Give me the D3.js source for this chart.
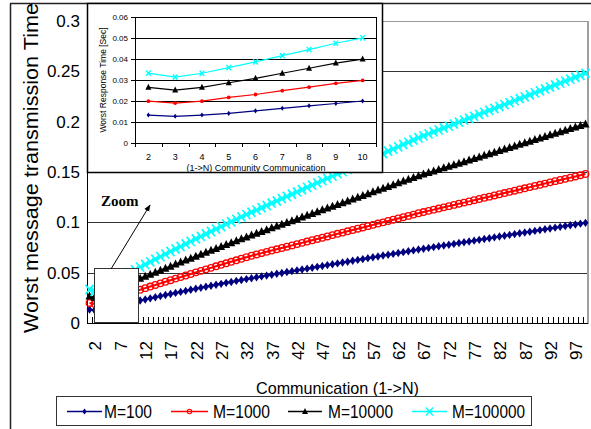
<!DOCTYPE html>
<html><head><meta charset="utf-8">
<script src="https://cdn.jsdelivr.net/npm/d3@7"></script>
<style>
body{margin:0;background:#fff}
svg{display:block}
text{font-family:"Liberation Sans",Arial,sans-serif;fill:#000}
</style>
</head><body>
<svg id="c" width="591" height="429"></svg>
<script>
const categories = d3.range(2, 101);
const seriesNames = ["M=100", "M=1000", "M=10000", "M=100000"];
const m100 = [0.0133,0.0127,0.0133,0.0141,0.0153,0.0165,0.0177,0.0188,0.0200,
0.0212,0.0223,0.0234,0.0245,0.0256,0.0267,0.0278,0.0288,0.0299,0.0309,
0.0319,0.0330,0.0340,0.0350,0.0360,0.0370,0.0380,0.0389,0.0399,0.0408,
0.0418,0.0427,0.0436,0.0445,0.0454,0.0463,0.0471,0.0480,0.0489,0.0497,
0.0506,0.0515,0.0523,0.0532,0.0540,0.0549,0.0558,0.0566,0.0575,0.0584,
0.0592,0.0601,0.0609,0.0618,0.0627,0.0635,0.0644,0.0653,0.0661,0.0670,
0.0678,0.0687,0.0696,0.0704,0.0713,0.0721,0.0730,0.0738,0.0746,0.0754,
0.0762,0.0770,0.0778,0.0786,0.0794,0.0802,0.0810,0.0818,0.0826,0.0834,
0.0842,0.0851,0.0859,0.0867,0.0875,0.0883,0.0891,0.0899,0.0907,0.0915,
0.0923,0.0931,0.0939,0.0947,0.0955,0.0963,0.0971,0.0979,0.0987,0.0995];
const m1000 = [0.0199,0.0190,0.0199,0.0217,0.0231,0.0249,0.0266,0.0284,0.0298,
0.0314,0.0330,0.0346,0.0362,0.0378,0.0394,0.0410,0.0425,0.0441,0.0456,
0.0472,0.0487,0.0503,0.0518,0.0533,0.0548,0.0563,0.0578,0.0593,0.0608,
0.0623,0.0638,0.0653,0.0668,0.0681,0.0694,0.0707,0.0720,0.0732,0.0745,
0.0758,0.0771,0.0784,0.0796,0.0809,0.0822,0.0835,0.0847,0.0860,0.0873,
0.0886,0.0898,0.0911,0.0924,0.0937,0.0949,0.0962,0.0975,0.0988,0.1000,
0.1013,0.1026,0.1039,0.1051,0.1064,0.1077,0.1090,0.1102,0.1114,0.1126,
0.1137,0.1149,0.1161,0.1173,0.1185,0.1196,0.1208,0.1220,0.1232,0.1244,
0.1255,0.1267,0.1279,0.1291,0.1303,0.1314,0.1326,0.1338,0.1350,0.1362,
0.1373,0.1385,0.1397,0.1409,0.1421,0.1432,0.1444,0.1456,0.1468,0.1480];
const m10000 = [0.0265,0.0252,0.0265,0.0287,0.0308,0.0332,0.0356,0.0380,0.0399,
0.0420,0.0441,0.0462,0.0482,0.0502,0.0522,0.0542,0.0562,0.0582,0.0602,
0.0622,0.0641,0.0661,0.0680,0.0700,0.0719,0.0738,0.0757,0.0776,0.0795,
0.0814,0.0833,0.0852,0.0870,0.0888,0.0906,0.0924,0.0942,0.0960,0.0977,
0.0995,0.1013,0.1031,0.1049,0.1067,0.1085,0.1103,0.1121,0.1139,0.1156,
0.1174,0.1192,0.1210,0.1228,0.1246,0.1264,0.1282,0.1300,0.1317,0.1335,
0.1353,0.1371,0.1389,0.1407,0.1424,0.1442,0.1460,0.1476,0.1491,0.1507,
0.1522,0.1538,0.1554,0.1569,0.1585,0.1600,0.1616,0.1632,0.1647,0.1663,
0.1678,0.1694,0.1710,0.1725,0.1741,0.1756,0.1772,0.1788,0.1803,0.1819,
0.1834,0.1850,0.1866,0.1881,0.1897,0.1912,0.1928,0.1944,0.1959,0.1975];
const m100000 = [0.0333,0.0314,0.0332,0.0359,0.0386,0.0416,0.0445,0.0475,0.0501,
0.0528,0.0555,0.0581,0.0607,0.0633,0.0659,0.0684,0.0710,0.0735,0.0760,
0.0785,0.0810,0.0835,0.0860,0.0884,0.0909,0.0933,0.0958,0.0982,0.1006,
0.1030,0.1054,0.1077,0.1100,0.1122,0.1145,0.1167,0.1190,0.1212,0.1235,
0.1257,0.1279,0.1302,0.1324,0.1347,0.1369,0.1392,0.1414,0.1436,0.1459,
0.1481,0.1504,0.1526,0.1549,0.1571,0.1593,0.1616,0.1638,0.1661,0.1683,
0.1706,0.1728,0.1750,0.1773,0.1795,0.1818,0.1840,0.1859,0.1879,0.1898,
0.1918,0.1937,0.1956,0.1976,0.1995,0.2015,0.2034,0.2053,0.2073,0.2092,
0.2112,0.2131,0.2150,0.2170,0.2189,0.2209,0.2228,0.2247,0.2267,0.2286,
0.2306,0.2325,0.2344,0.2364,0.2383,0.2403,0.2422,0.2441,0.2461,0.2480];
const yTicks = [0, 0.05, 0.1, 0.15, 0.2, 0.25, 0.3];
const yTickLabels = ["0", "0.05", "0.1", "0.15", "0.2", "0.25", "0.3"];
const xTickLabels = [2, 7, 12, 17, 22, 27, 32, 37, 42, 47, 52, 57, 62, 67, 72, 77, 82, 87, 92, 97];
const insetCategories = [2, 3, 4, 5, 6, 7, 8, 9, 10];
const insetYTicks = [0, 0.01, 0.02, 0.03, 0.04, 0.05, 0.06];
const insetYTickLabels = ["0", "0.01", "0.02", "0.03", "0.04", "0.05", "0.06"];
const colors = ["#000080", "#ff0000", "#000000", "#00ffff"];
const markerTypes = ["diamond", "circle", "triangle", "cross"];

const allSeries = [m100, m1000, m10000, m100000];
const svg = d3.select("#c");

function marker(g, type, cx, cy, s, color, sw) {
  if (type === "diamond") {
    g.append("path").attr("d", `M${cx},${cy - s * 1.4}L${cx + s},${cy}L${cx},${cy + s * 1.4}L${cx - s},${cy}Z`).attr("fill", color);
  } else if (type === "circle") {
    g.append("circle").attr("cx", cx).attr("cy", cy).attr("r", s).attr("fill", "none").attr("stroke", color).attr("stroke-width", sw || 1.1);
  } else if (type === "circleFill") {
    g.append("circle").attr("cx", cx).attr("cy", cy).attr("r", s).attr("fill", color);
  } else if (type === "triangle") {
    g.append("path").attr("d", `M${cx},${cy - s * 1.2}L${cx + s},${cy + s * 0.8}L${cx - s},${cy + s * 0.8}Z`).attr("fill", color);
  } else if (type === "cross") {
    g.append("path").attr("d", `M${cx - s},${cy - s * 1.15}L${cx + s},${cy + s * 1.15}M${cx + s},${cy - s * 1.15}L${cx - s},${cy + s * 1.15}`).attr("stroke", color).attr("stroke-width", sw || 1.4).attr("fill", "none");
  }
}

// outer frame
svg.append("line").attr("x1", 10.5).attr("y1", 3.5).attr("x2", 10.5).attr("y2", 429).attr("stroke", "#222").attr("stroke-width", 1.5);
svg.append("line").attr("x1", 10).attr("y1", 3.5).attr("x2", 591).attr("y2", 3.5).attr("stroke", "#222").attr("stroke-width", 1.5);

// main scales
const x = d3.scaleBand().domain(categories).range([87, 588]);
const y = d3.scaleLinear().domain([0, 0.3]).range([323, 21]);
const bw = x.bandwidth();

// gridlines
const grid = svg.append("g").attr("shape-rendering", "crispEdges");
yTicks.forEach((t, i) => {
  if (t === 0) return;
  grid.append("line").attr("x1", 87).attr("x2", 588).attr("y1", Math.round(y(t)) + 0.5).attr("y2", Math.round(y(t)) + 0.5)
    .attr("stroke", t === 0.3 ? "#999" : "#333").attr("stroke-width", 1);
});
grid.append("line").attr("x1", 588).attr("x2", 588).attr("y1", 21).attr("y2", 324).attr("stroke", "#a0a0a0").attr("stroke-width", 2.5);
// axes
grid.append("line").attr("x1", 87.5).attr("x2", 87.5).attr("y1", 21).attr("y2", 324).attr("stroke", "#000");
grid.append("line").attr("x1", 87).attr("x2", 588).attr("y1", 323.5).attr("y2", 323.5).attr("stroke", "#000").attr("stroke-width", 1.5);
categories.forEach((c, i) => {
  const xx = Math.round(x(c)) + 0.5;
  grid.append("line").attr("x1", xx).attr("x2", xx).attr("y1", 317).attr("y2", 323).attr("stroke", "#000");
});

// y tick labels
yTicks.forEach((t, i) => {
  svg.append("text").attr("x", 80).attr("y", y(t) + 6).attr("text-anchor", "end")
    .attr("font-size", 17).text(yTickLabels[i]);
});
// x tick labels
xTickLabels.forEach(l => {
  const cx = x(l) + bw / 2 + 6;
  svg.append("text").attr("transform", `translate(${cx},341) rotate(-90)`)
    .attr("text-anchor", "end").attr("dy", "0.35em").attr("font-size", 17).text(l);
});

// series
const line = d3.line().x(d => x(d.n) + bw / 2).y(d => y(d.v));
const sizes = [3, 3.3, 4, 4];
const sws = [1, 1.3, 1, 1.7];
allSeries.forEach((vals, si) => {
  const data = categories.map((n, i) => ({n, v: vals[i]}));
  const g = svg.append("g");
  g.append("path").attr("d", line(data)).attr("fill", "none").attr("stroke", colors[si]).attr("stroke-width", 2);
  data.forEach(d => marker(g, markerTypes[si], x(d.n) + bw / 2, y(d.v), sizes[si], colors[si], sws[si]));
});

// axis titles
svg.append("text").attr("transform", "translate(31,168) rotate(-90)").attr("text-anchor", "middle").attr("dy", "0.35em")
  .attr("font-size", 21).attr("textLength", 330).attr("lengthAdjust", "spacingAndGlyphs").text("Worst message transmission Time");
svg.append("text").attr("x", 256).attr("y", 394).attr("font-size", 17).attr("textLength", 163).attr("lengthAdjust", "spacingAndGlyphs")
  .text("Communication (1->N)");

// zoom box, arrow, text
svg.append("rect").attr("x", 94.5).attr("y", 268.5).attr("width", 44).attr("height", 54).attr("fill", "#fff").attr("stroke", "#333").attr("stroke-width", 1);
svg.append("defs").append("marker").attr("id", "ah").attr("viewBox", "0 0 10 10").attr("refX", 9).attr("refY", 5)
  .attr("markerWidth", 7).attr("markerHeight", 7).attr("orient", "auto")
  .append("path").attr("d", "M0,1L10,5L0,9Z").attr("fill", "#000");
svg.append("line").attr("x1", 111).attr("y1", 269).attr("x2", 150).attr("y2", 205).attr("stroke", "#000").attr("stroke-width", 1).attr("marker-end", "url(#ah)");
svg.append("text").attr("x", 101).attr("y", 206)
  .attr("font-weight", "bold").attr("font-size", 15).style("font-family", "'Liberation Serif','Times New Roman',serif").text("Zoom");

// inset
const inset = svg.append("g");
inset.append("rect").attr("x", 87.5).attr("y", 3.5).attr("width", 295).attr("height", 169).attr("fill", "#fff").attr("stroke", "#000").attr("stroke-width", 1.5);
const ix = d3.scaleBand().domain(insetCategories).range([135, 376]);
const iy = d3.scaleLinear().domain([0, 0.06]).range([143, 17]);
const ibw = ix.bandwidth();
const ig = inset.append("g").attr("shape-rendering", "crispEdges");
insetYTicks.forEach((t, i) => {
  const yy = Math.round(iy(t)) + 0.5;
  ig.append("line").attr("x1", 135).attr("x2", 376).attr("y1", yy).attr("y2", yy).attr("stroke", "#000");
  ig.append("line").attr("x1", 131).attr("x2", 135).attr("y1", yy).attr("y2", yy).attr("stroke", "#000");
  inset.append("text").attr("x", 128).attr("y", iy(t) + 3).attr("text-anchor", "end").attr("font-size", 8).text(insetYTickLabels[i]);
});
ig.append("line").attr("x1", 135.5).attr("x2", 135.5).attr("y1", 17).attr("y2", 143).attr("stroke", "#000");
ig.append("line").attr("x1", 376.5).attr("x2", 376.5).attr("y1", 17).attr("y2", 143).attr("stroke", "#000");
ig.append("line").attr("x1", 135).attr("x2", 377).attr("y1", 143.5).attr("y2", 143.5).attr("stroke", "#000").attr("stroke-width", 1.5);
insetCategories.forEach(c => {
  const xx = Math.round(ix(c)) + 0.5;
  ig.append("line").attr("x1", xx).attr("x2", xx).attr("y1", 143).attr("y2", 147).attr("stroke", "#000");
  inset.append("text").attr("x", ix(c) + ibw / 2).attr("y", 160).attr("text-anchor", "middle").attr("font-size", 9).text(c);
});
ig.append("line").attr("x1", 376.5).attr("x2", 376.5).attr("y1", 143).attr("y2", 147).attr("stroke", "#000");
const iline = d3.line().x(d => ix(d.n) + ibw / 2).y(d => iy(d.v));
const insetMarkers = ["diamond", "circleFill", "triangle", "cross"];
const insetSizes = [1.8, 1.9, 3, 2.3];
allSeries.forEach((vals, si) => {
  const data = insetCategories.map((n, i) => ({n, v: vals[i]}));
  const g = inset.append("g");
  g.append("path").attr("d", iline(data)).attr("fill", "none").attr("stroke", colors[si]).attr("stroke-width", 1.2);
  data.forEach(d => marker(g, insetMarkers[si], ix(d.n) + ibw / 2, iy(d.v), insetSizes[si], colors[si]));
});
inset.append("text").attr("transform", "translate(103,80) rotate(-90)").attr("text-anchor", "middle").attr("dy", "0.35em")
  .attr("font-size", 8.5).text("Worst Response Time [Sec]");
inset.append("text").attr("x", 256).attr("y", 171).attr("text-anchor", "middle").attr("font-size", 9)
  .text("(1->N) Community Communication");

// legend
const lg = svg.append("g");
lg.append("rect").attr("x", 56.5).attr("y", 396.5).attr("width", 475).attr("height", 29).attr("fill", "#fff").attr("stroke", "#333");
const legX = [67, 171, 288, 412];
const legW = [35, 37, 34, 35];
const txtX = [104, 213, 328, 452];
const txtW = [48, 57, 65, 73];
const legMarkers = ["diamond", "circle", "triangle", "cross"];
const legSizes = [2.2, 2.2, 3, 3.5];
seriesNames.forEach((name, i) => {
  lg.append("line").attr("x1", legX[i]).attr("x2", legX[i] + legW[i]).attr("y1", 411.5).attr("y2", 411.5).attr("stroke", colors[i]).attr("stroke-width", 1.5);
  marker(lg, legMarkers[i], legX[i] + legW[i] / 2, 411.5, legSizes[i], colors[i]);
  lg.append("text").attr("x", txtX[i]).attr("y", 418).attr("font-size", 18).attr("textLength", txtW[i])
    .attr("lengthAdjust", "spacingAndGlyphs").text(name);
});
</script>
</body></html>
